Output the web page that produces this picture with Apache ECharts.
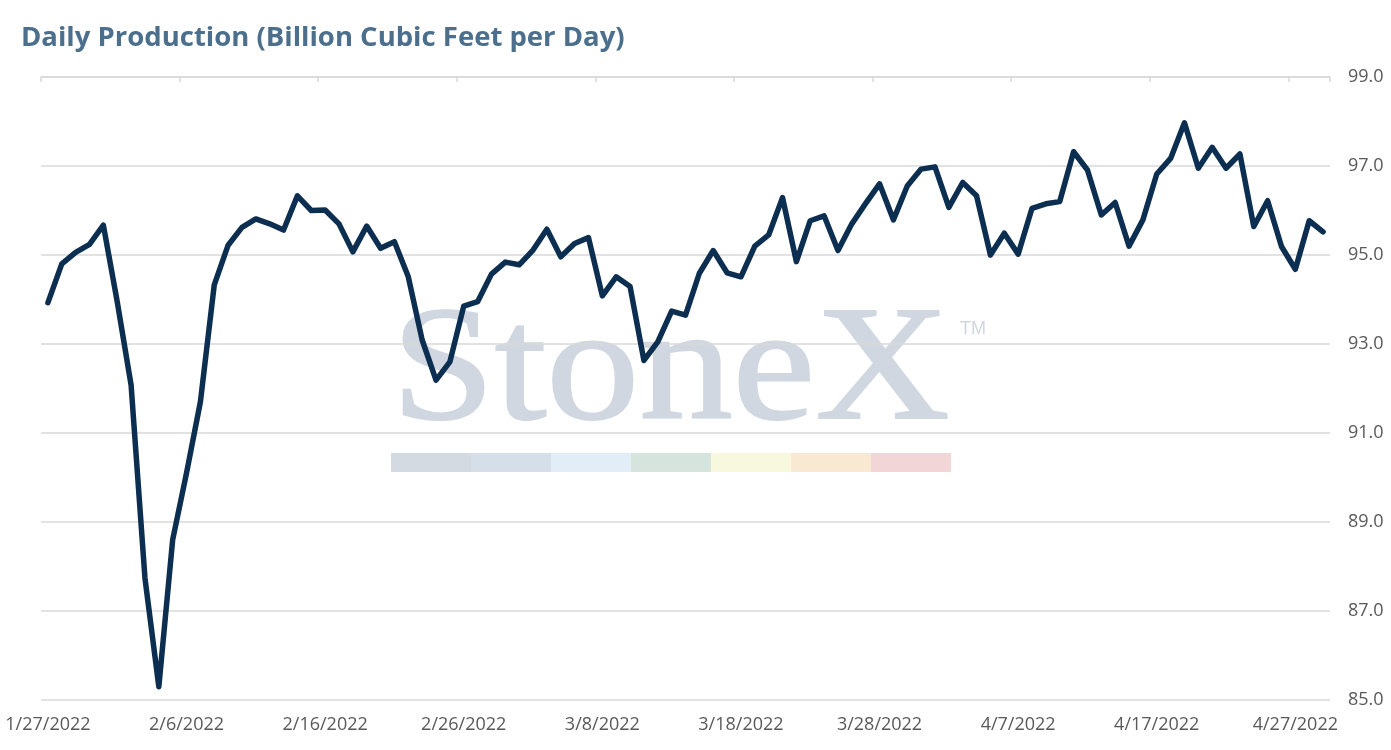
<!DOCTYPE html>
<html>
<head>
<meta charset="utf-8">
<script src="https://cdn.jsdelivr.net/npm/echarts@6/dist/echarts.min.js"></script>
<style>
html,body{margin:0;padding:0;background:#fff;}
#c{width:1391px;height:750px;}
</style>
</head>
<body>
<div id="c"></div>
<script>
var titleText = 'Daily Production (Billion Cubic Feet per Day)';

var dates = [
'1/27/2022','1/28/2022','1/29/2022','1/30/2022','1/31/2022',
'2/1/2022','2/2/2022','2/3/2022','2/4/2022','2/5/2022','2/6/2022','2/7/2022','2/8/2022','2/9/2022','2/10/2022',
'2/11/2022','2/12/2022','2/13/2022','2/14/2022','2/15/2022','2/16/2022','2/17/2022','2/18/2022','2/19/2022','2/20/2022',
'2/21/2022','2/22/2022','2/23/2022','2/24/2022','2/25/2022','2/26/2022','2/27/2022','2/28/2022',
'3/1/2022','3/2/2022','3/3/2022','3/4/2022','3/5/2022','3/6/2022','3/7/2022','3/8/2022','3/9/2022','3/10/2022',
'3/11/2022','3/12/2022','3/13/2022','3/14/2022','3/15/2022','3/16/2022','3/17/2022','3/18/2022','3/19/2022','3/20/2022',
'3/21/2022','3/22/2022','3/23/2022','3/24/2022','3/25/2022','3/26/2022','3/27/2022','3/28/2022','3/29/2022','3/30/2022','3/31/2022',
'4/1/2022','4/2/2022','4/3/2022','4/4/2022','4/5/2022','4/6/2022','4/7/2022','4/8/2022','4/9/2022','4/10/2022',
'4/11/2022','4/12/2022','4/13/2022','4/14/2022','4/15/2022','4/16/2022','4/17/2022','4/18/2022','4/19/2022','4/20/2022',
'4/21/2022','4/22/2022','4/23/2022','4/24/2022','4/25/2022','4/26/2022','4/27/2022','4/28/2022','4/29/2022'
];

var production = [
93.93, 94.80, 95.06, 95.24, 95.67,
93.95, 92.08, 87.74, 85.30, 88.60, 90.10, 91.70, 94.33, 95.22, 95.62,
95.81, 95.70, 95.56, 96.33, 96.00, 96.01, 95.70, 95.07, 95.65, 95.15,
95.30, 94.51, 93.09, 92.19, 92.60, 93.85, 93.95, 94.57,
94.84, 94.78, 95.11, 95.58, 94.96, 95.26, 95.39, 94.08, 94.51, 94.29,
92.63, 93.05, 93.74, 93.65, 94.59, 95.10, 94.60, 94.51, 95.20, 95.45,
96.29, 94.85, 95.77, 95.88, 95.10, 95.70, 96.16, 96.60, 95.79, 96.55, 96.93,
96.98, 96.07, 96.63, 96.33, 95.00, 95.49, 95.02, 96.05, 96.15, 96.20,
97.32, 96.91, 95.90, 96.18, 95.20, 95.79, 96.82, 97.17, 97.97, 96.95,
97.42, 96.95, 97.27, 95.64, 96.22, 95.19, 94.68, 95.77, 95.52
];

var yMin = 85, yMax = 99, yStep = 2;
var watermarkColors = ['#d3dae2','#d5dfea','#e2eef7','#d5e5dd','#f8f8df','#f9e9d3','#f2d5d7'];

var chart = echarts.init(document.getElementById('c'));

var barRects = watermarkColors.map(function (c, i) {
  return {
    type: 'rect',
    left: 391 + i * 80, top: 453,
    shape: { width: 80, height: 19 },
    style: { fill: c },
    z: -10, silent: true
  };
});

chart.setOption({
  animation: false,
  backgroundColor: '#ffffff',
  title: {
    text: titleText,
    left: 16, top: 19,
    textStyle: { fontFamily: 'Open Sans', fontWeight: 'bold', fontSize: 27.5, color: '#4b6f8c' }
  },
  graphic: [
    {
      type: 'text', left: 390, top: 292, z: -10, silent: true,
      scaleX: 1.135,
      style: { text: 'StoneX', font: '164px "Liberation Serif"', fill: '#d0d7e0', stroke: '#d0d7e0', lineWidth: 2 }
    },
    {
      type: 'text', left: 960, top: 320, z: -10, silent: true,
      style: { text: 'TM', font: '18px "Liberation Sans"', fill: '#d0d7e0' }
    }
  ].concat(barRects),
  grid: { left: 41, right: 61, top: 77, bottom: 50, containLabel: false },
  xAxis: [
    {
      type: 'category', data: dates, position: 'bottom', boundaryGap: true,
      axisLine: { show: false },
      axisTick: { show: false },
      axisLabel: { interval: 9, margin: 16, fontFamily: 'Open Sans', fontSize: 18, color: '#595959' }
    },
    {
      type: 'category', data: dates, position: 'top', boundaryGap: true,
      axisLine: { show: true, lineStyle: { color: '#d9d9d9', width: 1.5 } },
      axisTick: { show: true, inside: true, length: 5,
        interval: function (i) { return i % 10 === 0; },
        lineStyle: { color: '#d9d9d9', width: 1.5 } },
      axisLabel: { show: false }
    }
  ],
  yAxis: {
    type: 'value', position: 'right', min: yMin, max: yMax, interval: yStep,
    axisLine: { show: false }, axisTick: { show: false },
    axisLabel: { margin: 18, fontFamily: 'Open Sans', fontSize: 18, color: '#595959',
      formatter: function (v) { return v.toFixed(1); } },
    splitLine: { lineStyle: { color: '#d9d9d9', width: 1.5 } }
  },
  series: [{
    type: 'line', xAxisIndex: 0, data: production,
    showSymbol: false, symbol: 'none',
    lineStyle: { color: '#0b2e51', width: 5.5, cap: 'round', join: 'round' },
    z: 5
  }]
});
</script>
</body>
</html>
